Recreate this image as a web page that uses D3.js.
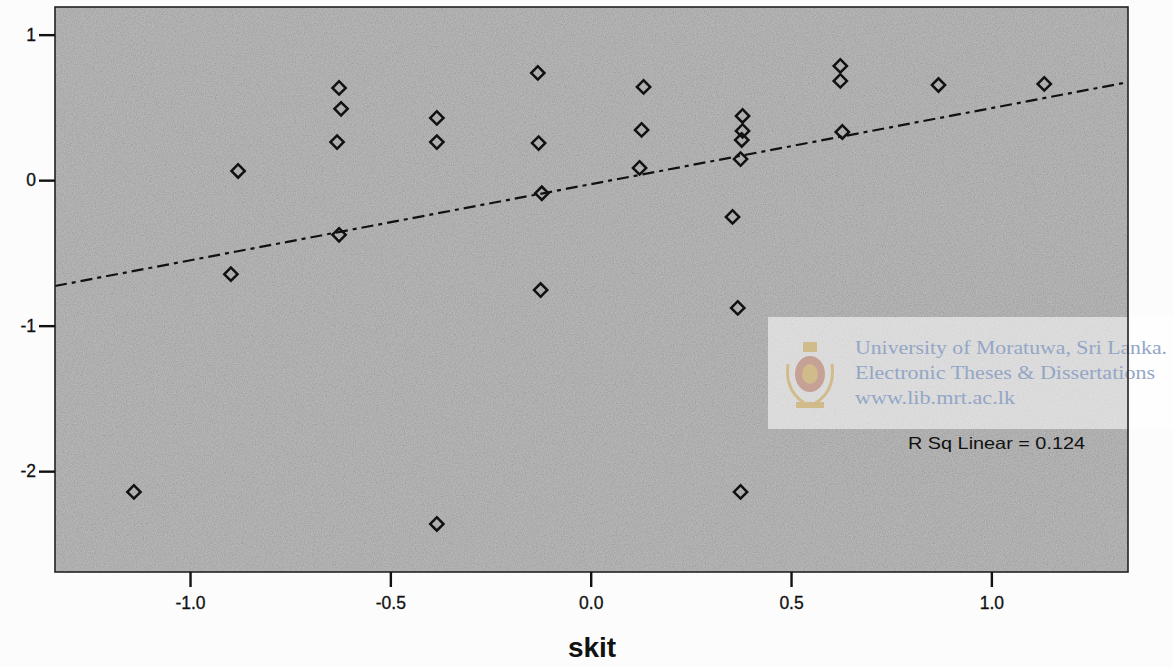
<!DOCTYPE html>
<html>
<head>
<meta charset="utf-8">
<script src="https://cdn.jsdelivr.net/npm/d3@7"></script>
<style>
  html, body { margin: 0; padding: 0; background: #fcfcfc; }
  svg { display: block; }
</style>
</head>
<body>
<svg id="chart" width="1173" height="667"></svg>
<script>
// ---- data ----
const xValues = [-1.140, -0.898, -0.880, -0.628, -0.623, -0.633, -0.628, -0.384, -0.384, -0.384,
                 -0.132, -0.130, -0.122, -0.125, 0.132, 0.127, 0.122, 0.379, 0.379, 0.377,
                 0.374, 0.354, 0.367, 0.374, 0.623, 0.623, 0.628, 0.868, 1.132];
const yValues = [-2.143, -0.646, 0.063, 0.634, 0.490, 0.262, -0.376, 0.428, 0.262, -2.363,
                 0.737, 0.255, -0.090, -0.755, 0.641, 0.345, 0.084, 0.441, 0.338, 0.276,
                 0.145, -0.253, -0.878, -2.143, 0.785, 0.682, 0.331, 0.654, 0.661];
const xTicks = [-1.0, -0.5, 0.0, 0.5, 1.0];
const yTicks = [1, 0, -1, -2];
const fitSlope = 0.523;
const fitIntercept = -0.028;
const rSquared = "0.124";
const xLabel = "skit";
const watermarkLines = ["University of Moratuwa, Sri Lanka.", "Electronic Theses & Dissertations", "www.lib.mrt.ac.lk"];
const watermarkWidths = [312, 300, 160];

// ---- layout ----
const svg = d3.select("#chart");
const L = 55, R = 1128, T = 7, B = 572;
const x = d3.scaleLinear().domain([-1.337, 1.341]).range([L, R]);
const y = d3.scaleLinear().domain([-2.693, 1.19]).range([B, T]);

// noise filter for the grainy plot background
const defs = svg.append("defs");
const f = defs.append("filter").attr("id", "grain").attr("x", 0).attr("y", 0).attr("width", "100%").attr("height", "100%");
f.append("feTurbulence").attr("type", "fractalNoise").attr("baseFrequency", 0.9).attr("numOctaves", 2).attr("seed", 3).attr("result", "n");
f.append("feColorMatrix").attr("type", "matrix")
  .attr("values", "1 0 0 0 0  1 0 0 0 0  1 0 0 0 0  0 0 0 0 1");

// plot background
svg.append("rect").attr("x", L).attr("y", T).attr("width", R - L).attr("height", B - T)
  .attr("fill", "#acacac");
svg.append("rect").attr("x", L).attr("y", T).attr("width", R - L).attr("height", B - T)
  .attr("fill", "#ffffff").attr("filter", "url(#grain)").attr("opacity", 0.22);

// watermark box
const wm = svg.append("g");
wm.append("rect").attr("x", 768).attr("y", 317).attr("width", 1173 - 768).attr("height", 112)
  .attr("fill", "#ffffff").attr("opacity", 0.55);
// simple crest
const crest = wm.append("g").attr("transform", "translate(810,372)").attr("opacity", 0.55);
crest.append("path").attr("d", "M-22,-8 Q-26,22 0,34 Q26,22 22,-8").attr("fill", "none").attr("stroke", "#c9a24a").attr("stroke-width", 3);
crest.append("ellipse").attr("rx", 15).attr("ry", 18).attr("cy", 2).attr("fill", "#b5725e");
crest.append("ellipse").attr("rx", 8).attr("ry", 10).attr("cy", 2).attr("fill", "#c9a24a");
crest.append("rect").attr("x", -7).attr("y", -30).attr("width", 14).attr("height", 10).attr("fill", "#c9a24a");
crest.append("rect").attr("x", -14).attr("y", 30).attr("width", 28).attr("height", 6).attr("fill", "#c9a24a");
wm.selectAll("text.wm").data(watermarkLines).join("text").attr("class", "wm")
  .attr("x", 855).attr("y", (d, i) => 354 + i * 25)
  .attr("font-family", "'Liberation Serif', 'DejaVu Serif', serif")
  .attr("font-size", 19).attr("fill", "#94a6c6")
  .attr("textLength", (d, i) => watermarkWidths[i]).attr("lengthAdjust", "spacingAndGlyphs")
  .text(d => d);

// regression line
const fitLine = d3.line().x(d => x(d)).y(d => y(fitIntercept + fitSlope * d));
svg.append("path").datum(x.domain())
  .attr("d", fitLine).attr("fill", "none").attr("stroke", "#111")
  .attr("stroke-width", 2.2).attr("stroke-dasharray", "12,5,4,5");

// points
const sym = d3.symbol().type(d3.symbolSquare).size(88);
svg.append("g").selectAll("path").data(xValues.map((v, i) => [v, yValues[i]])).join("path")
  .attr("d", sym)
  .attr("transform", d => `translate(${x(d[0])},${y(d[1])}) rotate(45)`)
  .attr("fill", "none").attr("stroke", "#111").attr("stroke-width", 2.5);

// frame
svg.append("rect").attr("x", L).attr("y", T).attr("width", R - L).attr("height", B - T)
  .attr("fill", "none").attr("stroke", "#222").attr("stroke-width", 1.6);

// axes
const xAxis = d3.axisBottom(x).tickValues(xTicks).tickSize(15).tickSizeOuter(0).tickPadding(10)
  .tickFormat(d => d.toFixed(1));
const gx = svg.append("g").attr("transform", `translate(0,${B})`).call(xAxis);
const yAxis = d3.axisLeft(y).tickValues(yTicks).tickSize(16).tickSizeOuter(0).tickPadding(3)
  .tickFormat(d => String(d));
const gy = svg.append("g").attr("transform", `translate(${L},0)`).call(yAxis);
[gx, gy].forEach(g => {
  g.select(".domain").remove();
  g.selectAll(".tick line").attr("stroke", "#111").attr("stroke-width", 2.4);
  g.selectAll(".tick text").attr("fill", "#111")
    .attr("font-family", "'Liberation Sans', Arial, sans-serif").attr("font-size", 17.5)
    .attr("stroke", "#111").attr("stroke-width", 0.3);
});

// x axis title
svg.append("text").attr("x", 592).attr("y", 657).attr("text-anchor", "middle")
  .attr("font-family", "'Liberation Sans', Arial, sans-serif").attr("font-weight", "bold")
  .attr("font-size", 28).attr("fill", "#111").text(xLabel);

// R squared annotation
svg.append("text").attr("x", 908).attr("y", 449)
  .attr("font-family", "'Liberation Sans', Arial, sans-serif")
  .attr("font-size", 16.5).attr("fill", "#111")
  .attr("textLength", 177).attr("lengthAdjust", "spacingAndGlyphs")
  .text("R Sq Linear = " + rSquared);
</script>
</body>
</html>
